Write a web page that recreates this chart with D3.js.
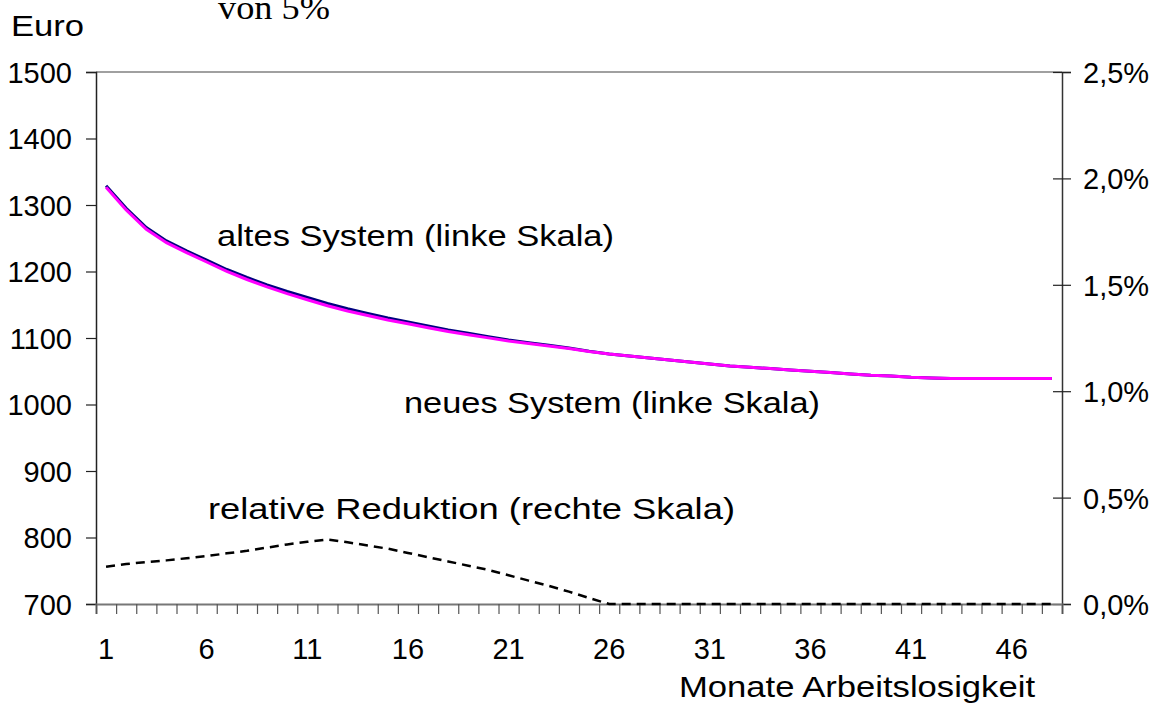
<!DOCTYPE html>
<html>
<head>
<meta charset="utf-8">
<script src="https://cdn.jsdelivr.net/npm/d3@7"></script>
<style>
body { margin: 0; background: #fff; }
svg text { fill: #000; }
</style>
</head>
<body>
<svg id="chart" width="1161" height="706" font-family="Liberation Sans, Arial, sans-serif"></svg>
<script>
// months of unemployment
var months = d3.range(1, 49);
var monthLabels = [1, 6, 11, 16, 21, 26, 31, 36, 41, 46];

// old system (Euro, left scale)
var altesSystem = [1329, 1295, 1266, 1246, 1231, 1217, 1203, 1191, 1180, 1170,
    1161, 1152, 1144, 1137, 1130, 1124, 1118, 1112, 1107, 1102,
    1097, 1093, 1089, 1085, 1080, 1076, 1073, 1070, 1067, 1064,
    1061, 1058, 1056, 1054, 1052, 1050, 1048, 1046, 1044, 1043,
    1041, 1040, 1039, 1039, 1039, 1039, 1039, 1039];
// new system (Euro, left scale)
var neuesSystem = [1326.7, 1292.6, 1263.4, 1243.4, 1228.4, 1214.3, 1200.1, 1188.0, 1176.9, 1166.7,
    1157.6, 1148.5, 1140.7, 1133.9, 1127.1, 1121.3, 1115.5, 1109.8, 1105.0, 1100.2,
    1095.5, 1091.8, 1088.1, 1084.3, 1079.7, 1076, 1073, 1070, 1067, 1064,
    1061, 1058, 1056, 1054, 1052, 1050, 1048, 1046, 1044, 1043,
    1041, 1040, 1039, 1039, 1039, 1039, 1039, 1039];
// relative reduction (%, right scale)
var reduktion = [0.175, 0.188, 0.197, 0.205, 0.215, 0.225, 0.238, 0.250, 0.265, 0.280,
    0.292, 0.303, 0.290, 0.275, 0.260, 0.240, 0.220, 0.200, 0.180, 0.160,
    0.135, 0.110, 0.085, 0.058, 0.028, 0, 0, 0, 0, 0,
    0, 0, 0, 0, 0, 0, 0, 0, 0, 0,
    0, 0, 0, 0, 0, 0, 0, 0];

var leftTicks = [700, 800, 900, 1000, 1100, 1200, 1300, 1400, 1500];
var rightTicks = [0, 0.5, 1.0, 1.5, 2.0, 2.5];
var rightTickLabels = ["0,0%", "0,5%", "1,0%", "1,5%", "2,0%", "2,5%"];

var svg = d3.select("#chart");
var margin = {top: 72, left: 96, right: 1062, bottom: 604};

var x = d3.scaleBand().domain(months).range([margin.left, margin.right]);
var xEdge = d3.scaleLinear().domain([0.5, 48.5]).range([margin.left, margin.right]);
var yL = d3.scaleLinear().domain([700, 1500]).range([margin.bottom, margin.top]);
var yR = d3.scaleLinear().domain([0, 2.5]).range([margin.bottom, margin.top]);
var cx = d => x(d) + x.bandwidth() / 2;

// top border
svg.append("line")
    .attr("x1", margin.left).attr("x2", margin.right)
    .attr("y1", margin.top).attr("y2", margin.top)
    .attr("stroke", "#808080").attr("stroke-width", 1.5);

// left axis
var gL = svg.append("g").attr("transform", `translate(${margin.left},0)`)
    .call(d3.axisLeft(yL).tickValues(leftTicks).tickSize(10).tickPadding(14).tickFormat(d => d));
gL.attr("font-family", null).attr("font-size", null);
gL.select(".domain").attr("stroke", "#222").attr("stroke-width", 1.5);
gL.selectAll(".tick line").attr("stroke", "#222").attr("stroke-width", 1.2);
gL.selectAll(".tick text").attr("font-size", 29).attr("dy", "0.36em");

// right axis
var gR = svg.append("g").attr("transform", `translate(${margin.right},0)`)
    .call(d3.axisRight(yR).tickValues(rightTicks).tickSize(9).tickPadding(12)
        .tickFormat((d, i) => rightTickLabels[i]));
gR.attr("font-family", null).attr("font-size", null);
gR.select(".domain").attr("stroke", "#333").attr("stroke-width", 1.5);
gR.selectAll(".tick line").attr("x1", -9).attr("stroke", "#222").attr("stroke-width", 1.2);
gR.selectAll(".tick text").attr("font-size", 29).attr("dy", "0.36em");

// bottom axis: ticks on category boundaries
var gB = svg.append("g").attr("transform", `translate(0,${margin.bottom})`)
    .call(d3.axisBottom(xEdge).tickValues(d3.range(0.5, 49, 1)).tickSize(10).tickFormat(""));
gB.select(".domain").attr("stroke", "#777").attr("stroke-width", 2);
gB.selectAll(".tick line").attr("stroke", "#555").attr("stroke-width", 1.2);

svg.append("g").selectAll("text").data(monthLabels).enter().append("text")
    .attr("x", d => cx(d)).attr("y", 659)
    .attr("text-anchor", "middle").attr("font-size", 29)
    .text(d => d);

// lines
var lineL = d3.line().x((d, i) => cx(months[i])).y(d => yL(d));
var lineR = d3.line().x((d, i) => cx(months[i])).y(d => yR(d));

svg.append("path").datum(reduktion).attr("d", lineR)
    .attr("fill", "none").attr("stroke", "#000").attr("stroke-width", 2.5)
    .attr("stroke-dasharray", "9,6");
svg.append("path").datum(altesSystem).attr("d", lineL)
    .attr("fill", "none").attr("stroke", "#000080").attr("stroke-width", 3);
svg.append("path").datum(neuesSystem).attr("d", lineL)
    .attr("fill", "none").attr("stroke", "#ff00ff").attr("stroke-width", 3);

// annotations
function label(t, xx, yy, len, size) {
    svg.append("text").attr("x", xx).attr("y", yy).attr("font-size", size)
        .attr("textLength", len).attr("lengthAdjust", "spacingAndGlyphs").text(t);
}
label("Euro", 11, 36, 73, 30);
label("altes System (linke Skala)", 217, 246, 397, 30);
label("neues System (linke Skala)", 404, 413, 416, 30);
label("relative Reduktion (rechte Skala)", 208, 519, 527, 30);
label("Monate Arbeitslosigkeit", 679, 697, 356, 30);

svg.append("text").attr("x", 218).attr("y", 19)
    .attr("font-family", "Liberation Serif, Times New Roman, serif")
    .attr("font-size", 34).attr("textLength", 112).attr("lengthAdjust", "spacingAndGlyphs")
    .text("von 5%");
</script>
</body>
</html>
